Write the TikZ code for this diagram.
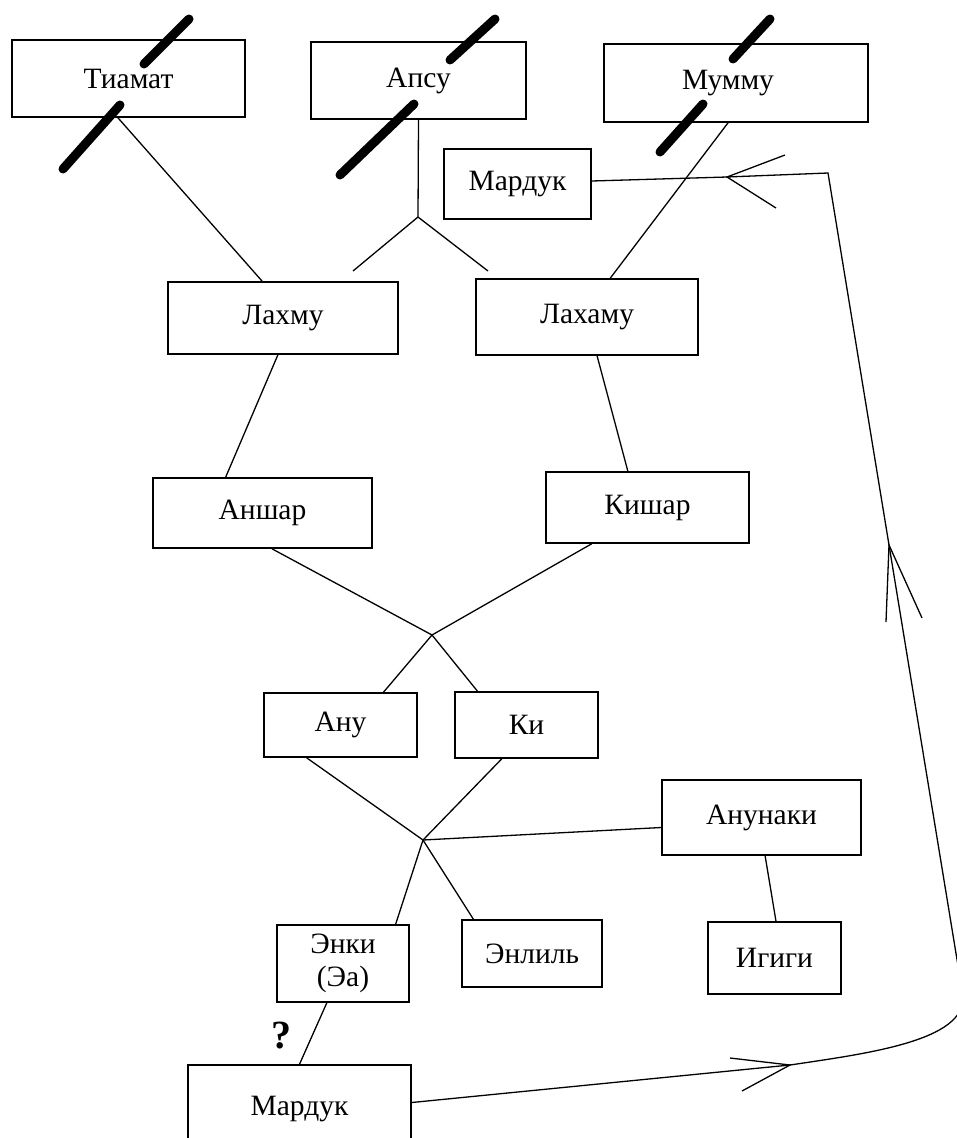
\documentclass[tikz,border=0pt]{standalone}
\usepackage{fontspec}
\setmainfont{Liberation Serif}
\usetikzlibrary{calc}
\begin{document}
\begin{tikzpicture}[x=1pt,y=-1pt,
  box/.style={draw, line width=1.6pt, inner sep=0pt, font=\fontsize{29.5}{34}\selectfont},
  link/.style={line width=1.3pt},
  slash/.style={line width=9pt, line cap=round}]
\useasboundingbox (0,0) rectangle (957,1138);
% boxes
\node[box, minimum width=233pt, minimum height=77pt] (tiamat) at (128.5,78.5) {Тиамат};
\node[box, minimum width=215pt, minimum height=77pt] (apsu) at (418.5,80.5) {Апсу};
\node[box, minimum width=264pt, minimum height=78pt] (mummu) at (736,83) {\hspace*{-16pt}Мумму};
\node[box, minimum width=147pt, minimum height=70pt] (mardukT) at (517.5,184) {Мардук};
\node[box, minimum width=230pt, minimum height=72pt] (lahmu) at (283,318) {Лахму};
\node[box, minimum width=222pt, minimum height=76pt] (lahamu) at (587,317) {Лахаму};
\node[box, minimum width=219pt, minimum height=70pt] (anshar) at (262.5,513) {Аншар};
\node[box, minimum width=203pt, minimum height=71pt] (kishar) at (647.5,507.5) {Кишар};
\node[box, minimum width=153pt, minimum height=64pt] (anu) at (340.5,725) {Ану};
\node[box, minimum width=143pt, minimum height=66pt] (ki) at (526.5,725) {Ки};
\node[box, minimum width=199pt, minimum height=75pt] (anunaki) at (761.5,817.5) {Анунаки};
\node[box, minimum width=132pt, minimum height=77pt, align=center, font=\fontsize{29.5}{33}\selectfont] (enki) at (343,963.5) {Энки\\(Эа)};
\node[box, minimum width=140pt, minimum height=67pt] (enlil) at (532,953.5) {Энлиль};
\node[box, minimum width=133pt, minimum height=72pt] (igigi) at (774.5,958) {Игиги};
\node[box, minimum width=223pt, minimum height=85pt, text height=21pt, text depth=6pt] (mardukB) at (299.5,1107.5) {Мардук};
\node[font=\bfseries\fontsize{40}{42}\selectfont] (q) at (281,1036) {?};
% junctions
\coordinate (fork) at (418,217);
\coordinate (forkL) at (353,271);
\coordinate (forkR) at (488,271);
\coordinate (X) at (432,635);
\coordinate (H) at (423,840);
% connectors
\draw[link] ($(tiamat.south west)!0.455!(tiamat.south east)$) -- ($(lahmu.north west)!0.41!(lahmu.north east)$);
\draw[link] (apsu.south) -- (fork) -- (forkL);
\draw[link] (fork) -- (forkR);
\draw[link] ($(mummu.south west)!0.47!(mummu.south east)$) -- ($(lahamu.north west)!0.604!(lahamu.north east)$);
\draw[link] ($(lahmu.south west)!0.478!(lahmu.south east)$) -- ($(anshar.north west)!0.333!(anshar.north east)$);
\draw[link] ($(lahamu.south west)!0.545!(lahamu.south east)$) -- ($(kishar.north west)!0.404!(kishar.north east)$);
\draw[link] ($(anshar.south west)!0.543!(anshar.south east)$) -- (X) -- ($(ki.north west)!0.161!(ki.north east)$);
\draw[link] ($(kishar.south west)!0.227!(kishar.south east)$) -- (X) -- ($(anu.north west)!0.778!(anu.north east)$);
\draw[link] ($(anu.south west)!0.281!(anu.south east)$) -- (H) -- ($(enlil.north west)!0.086!(enlil.north east)$);
\draw[link] ($(ki.south west)!0.329!(ki.south east)$) -- (H) -- ($(enki.north west)!0.894!(enki.north east)$);
\draw[link] (H) -- ($(anunaki.west)+(0,10)$);
\draw[link] ($(anunaki.south west)!0.518!(anunaki.south east)$) -- ($(igigi.north west)!0.511!(igigi.north east)$);
\draw[link] ($(enki.south west)!0.379!(enki.south east)$) -- (mardukB.north);
% big return arrow
\coordinate (tipB) at (790,1065);
\coordinate (tipU) at (889,545);
\coordinate (tipT) at (727,177);
\coordinate (corner) at (828,173);
\draw[link] ($(mardukB.east)+(0,-5)$) -- (tipB) .. controls (870,1053) and (975,1040) .. (962,990) -- (tipU) -- (corner) -- (tipT) -- ($(mardukT.east)+(0,-3)$);
\draw[link] (730,1058) -- (tipB) -- (742,1091);
\draw[link] (886,622) -- (tipU) -- (922,618);
\draw[link] (785,155) -- (tipT) -- (776,208);
% slashes
\draw[slash] (189,19) -- (144,64);
\draw[slash] (120,105) -- (63,169);
\draw[slash] (495,19) -- (450,60);
\draw[slash] (414,104) -- (340,175);
\draw[slash] (770,19) -- (733,59);
\draw[slash] (703,104) -- (660,152);
\end{tikzpicture}
\end{document}
